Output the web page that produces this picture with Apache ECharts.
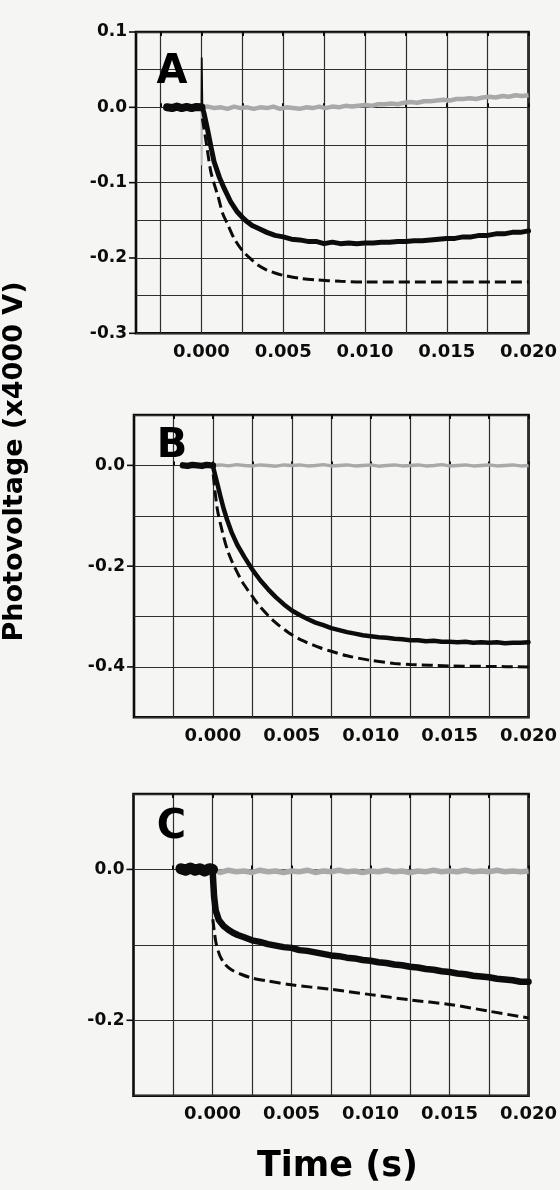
<!DOCTYPE html>
<html><head><meta charset="utf-8">
<script src="https://cdn.jsdelivr.net/npm/echarts@6/dist/echarts.min.js"></script>
<style>html,body{margin:0;padding:0;background:#f5f5f3}#c{width:560px;height:1190px}</style>
</head><body><div id="c"></div>
<script>
// ---------- data (time in s, photovoltage in x4000 V) ----------
const panelLetters = ['A', 'B', 'C'];
const xTickValues = [-0.0025, 0, 0.0025, 0.005, 0.0075, 0.01, 0.0125, 0.015, 0.0175, 0.02];
const xLabelValues = [0, 0.005, 0.01, 0.015, 0.02];
const xMins = [-0.004, -0.005, -0.005];
const xMax = 0.02;
const yMins = [-0.3, -0.5, -0.3];
const yMaxs = [0.1, 0.1, 0.1];
const yIntervals = [0.05, 0.1, 0.1];
const yLabelStep = [0.1, 0.2, 0.2];
const xTitle = 'Time (s)';
const yTitle = 'Photovoltage (x4000 V)';

// measured trace before the flash (t < 0)
const A_darkPre = [[-0.0021,0.0],[-0.0018,-0.001],[-0.0015,0.001],[-0.0012,-0.001],[-0.0009,0.0005],[-0.0006,-0.001],[-0.0003,0.0005],[0,0.0]];
const B_darkPre = [[-0.0019,0.0],[-0.0016,-0.001],[-0.0013,0.001],[-0.001,0.0],[-0.0007,-0.001],[-0.0004,0.001],[-0.0001,0.0],[0,0.0]];
const C_darkPre = [[-0.002,0.001],[-0.0017,-0.001],[-0.0014,0.002],[-0.0011,-0.001],[-0.0008,0.001],[-0.0005,-0.002],[-0.0002,0.001],[0,0.0]];
// flash artefacts at t = 0
const A_darkSpike = [[0,0.0],[0.00002,0.066],[0.00006,0.0]];
const A_lightSpike = [[0,0.0],[0.00002,-0.077],[0.00005,0.0]];
// measured traces after the flash
const A_dark = [[0.00006,0.0],[0.00015,-0.007],[0.00037,-0.029],[0.00057,-0.051],[0.00077,-0.072],[0.0011,-0.093],[0.0014,-0.108],[0.0018,-0.126],[0.0022,-0.139],[0.0025,-0.146],[0.0028,-0.152],[0.0031,-0.157],[0.0035,-0.161],[0.004,-0.166],[0.0045,-0.170],[0.005,-0.172],[0.0055,-0.175],[0.006,-0.176],[0.0065,-0.178],[0.007,-0.178],[0.0075,-0.181],[0.008,-0.179],[0.0085,-0.181],[0.009,-0.180],[0.0095,-0.181],[0.01,-0.180],[0.0105,-0.180],[0.011,-0.179],[0.0115,-0.179],[0.012,-0.178],[0.0125,-0.178],[0.013,-0.177],[0.0135,-0.177],[0.014,-0.176],[0.0145,-0.175],[0.015,-0.174],[0.0155,-0.174],[0.016,-0.172],[0.0165,-0.172],[0.017,-0.170],[0.0175,-0.170],[0.018,-0.168],[0.0185,-0.168],[0.019,-0.166],[0.0195,-0.166],[0.02,-0.164]];
const A_light = [[0,0.0],[0.0004,0.001],[0.0008,-0.001],[0.0012,0.0],[0.0016,-0.002],[0.002,0.001],[0.0024,-0.001],[0.0028,0.0],[0.0032,-0.002],[0.0036,0.0],[0.004,-0.001],[0.0044,0.001],[0.0048,-0.002],[0.0052,0.0],[0.0056,-0.001],[0.006,-0.002],[0.0064,0.0],[0.0068,-0.001],[0.0072,0.001],[0.0076,-0.001],[0.008,0.001],[0.0084,0.0],[0.0088,0.002],[0.0092,0.001],[0.0096,0.002],[0.01,0.003],[0.0104,0.002],[0.0108,0.004],[0.0112,0.004],[0.0116,0.005],[0.012,0.004],[0.0124,0.006],[0.0128,0.007],[0.0132,0.006],[0.0136,0.008],[0.014,0.008],[0.0144,0.009],[0.0148,0.010],[0.0152,0.009],[0.0156,0.011],[0.016,0.011],[0.0164,0.012],[0.0168,0.011],[0.0172,0.013],[0.0176,0.014],[0.018,0.013],[0.0184,0.015],[0.0188,0.014],[0.0192,0.016],[0.0196,0.015],[0.02,0.016]];
const A_fit = [[0.00006,-0.015],[0.00026,-0.042],[0.00057,-0.085],[0.00077,-0.101],[0.00104,-0.12],[0.0013,-0.141],[0.0016,-0.155],[0.002,-0.174],[0.0025,-0.19],[0.003,-0.201],[0.0035,-0.21],[0.004,-0.216],[0.0045,-0.22],[0.005,-0.223],[0.006,-0.227],[0.007,-0.229],[0.0085,-0.231],[0.01,-0.232],[0.015,-0.232],[0.02,-0.232]];

const B_dark = [[0,0.0],[0.00006,-0.009],[0.00027,-0.035],[0.00048,-0.062],[0.00069,-0.087],[0.0009,-0.108],[0.0012,-0.134],[0.00155,-0.158],[0.002,-0.182],[0.0025,-0.207],[0.003,-0.228],[0.0035,-0.246],[0.004,-0.262],[0.0045,-0.276],[0.005,-0.288],[0.0055,-0.297],[0.006,-0.305],[0.0065,-0.312],[0.007,-0.317],[0.0075,-0.323],[0.008,-0.327],[0.0085,-0.331],[0.009,-0.334],[0.0095,-0.337],[0.01,-0.339],[0.0105,-0.341],[0.011,-0.342],[0.0115,-0.344],[0.012,-0.345],[0.0125,-0.347],[0.013,-0.347],[0.0135,-0.349],[0.014,-0.348],[0.0145,-0.350],[0.015,-0.350],[0.0155,-0.351],[0.016,-0.350],[0.0165,-0.352],[0.017,-0.351],[0.0175,-0.352],[0.018,-0.351],[0.0185,-0.353],[0.019,-0.352],[0.0195,-0.352],[0.02,-0.351]];
const B_light = [[0,0.0],[0.0005,0.001],[0.001,-0.001],[0.0015,0.0015],[0.002,0.0],[0.0025,-0.001],[0.003,0.001],[0.0035,0.0],[0.004,-0.0015],[0.0045,0.001],[0.005,0.0],[0.0055,0.001],[0.006,-0.001],[0.0065,0.0],[0.007,0.0015],[0.0075,-0.001],[0.008,0.0],[0.0085,0.001],[0.009,-0.001],[0.0095,0.0],[0.01,0.001],[0.0105,-0.0015],[0.011,0.0],[0.0115,0.001],[0.012,-0.001],[0.0125,0.0],[0.013,0.001],[0.0135,-0.001],[0.014,0.0],[0.0145,0.0015],[0.015,-0.001],[0.0155,0.0],[0.016,0.001],[0.0165,-0.001],[0.017,0.0],[0.0175,0.001],[0.018,-0.001],[0.0185,0.0],[0.019,0.001],[0.0195,-0.001],[0.02,0.0]];
const B_fit = [[0.00002,-0.018],[0.00027,-0.085],[0.0006,-0.132],[0.0009,-0.166],[0.0012,-0.19],[0.0017,-0.222],[0.002,-0.238],[0.0025,-0.26],[0.003,-0.281],[0.0039,-0.31],[0.0048,-0.332],[0.0057,-0.348],[0.0068,-0.362],[0.0075,-0.369],[0.0085,-0.378],[0.01,-0.387],[0.0115,-0.393],[0.0125,-0.395],[0.015,-0.398],[0.0175,-0.399],[0.02,-0.4]];

const C_dark = [[0,0.0],[0.00004,-0.014],[0.0001,-0.036],[0.0002,-0.054],[0.0004,-0.067],[0.0007,-0.075],[0.001,-0.080],[0.0013,-0.084],[0.0016,-0.087],[0.002,-0.090],[0.0025,-0.094],[0.003,-0.096],[0.0035,-0.099],[0.004,-0.101],[0.0045,-0.103],[0.005,-0.104],[0.0055,-0.107],[0.006,-0.108],[0.0065,-0.110],[0.007,-0.112],[0.0075,-0.114],[0.008,-0.115],[0.0085,-0.117],[0.009,-0.118],[0.0095,-0.120],[0.01,-0.121],[0.0105,-0.123],[0.011,-0.124],[0.0115,-0.126],[0.012,-0.127],[0.0125,-0.129],[0.013,-0.130],[0.0135,-0.132],[0.014,-0.133],[0.0145,-0.135],[0.015,-0.136],[0.0155,-0.138],[0.016,-0.139],[0.0165,-0.141],[0.017,-0.142],[0.0175,-0.143],[0.018,-0.145],[0.0185,-0.146],[0.019,-0.147],[0.0195,-0.149],[0.02,-0.149]];
const C_light = [[0,-0.001],[0.0005,-0.004],[0.001,-0.001],[0.0015,-0.003],[0.002,-0.002],[0.0025,-0.004],[0.003,-0.001],[0.0035,-0.003],[0.004,-0.002],[0.0045,-0.004],[0.005,-0.002],[0.0055,-0.003],[0.006,-0.001],[0.0065,-0.004],[0.007,-0.002],[0.0075,-0.003],[0.008,-0.001],[0.0085,-0.003],[0.009,-0.002],[0.0095,-0.004],[0.01,-0.002],[0.0105,-0.003],[0.011,-0.001],[0.0115,-0.003],[0.012,-0.002],[0.0125,-0.004],[0.013,-0.002],[0.0135,-0.003],[0.014,-0.001],[0.0145,-0.003],[0.015,-0.002],[0.0155,-0.003],[0.016,-0.001],[0.0165,-0.003],[0.017,-0.002],[0.0175,-0.003],[0.018,-0.001],[0.0185,-0.003],[0.019,-0.002],[0.0195,-0.003],[0.02,-0.002]];
const C_fit = [[0.00002,-0.066],[0.0001,-0.08],[0.0002,-0.095],[0.0003,-0.104],[0.0005,-0.116],[0.0008,-0.126],[0.0012,-0.133],[0.0018,-0.139],[0.0025,-0.144],[0.0035,-0.148],[0.005,-0.153],[0.0075,-0.159],[0.01,-0.166],[0.0125,-0.173],[0.015,-0.179],[0.0175,-0.188],[0.02,-0.197]];

const darkPre = [A_darkPre, B_darkPre, C_darkPre];
const darkTraces = [A_dark, B_dark, C_dark];
const lightTraces = [A_light, B_light, C_light];
const fitTraces = [A_fit, B_fit, C_fit];

// ---------- layout / style ----------
const grids = [
  {left: 136, top: 32, width: 395.5, height: 301.3},
  {left: 134, top: 415, width: 397.5, height: 302.3},
  {left: 133.5, top: 794, width: 397, height: 301.7}
];
const letterPos = [[172, 72.5], [172, 446.5], [171.5, 827.5]];
const preWidth = [8, 6.5, 11];
const darkWidth = [5, 4.5, 6.5];
const lightWidth = [4.5, 3.5, 5.5];
const NUM_FONT = '"DejaVu Sans", "Liberation Sans", Arial, sans-serif';
const INK = '#0c0c0c';
const LIGHT = '#a9a9a9';

const chart = echarts.init(document.getElementById('c'), null, {renderer: 'canvas'});

const option = {
  backgroundColor: '#f5f5f3',
  animation: false,
  grid: grids.map(g => Object.assign({show: true, borderColor: INK, borderWidth: 2.6, backgroundColor: 'transparent', containLabel: false}, g)),
  xAxis: [],
  yAxis: [],
  series: [],
  graphic: []
};

for (let i = 0; i < 3; i++) {
  option.xAxis.push({
    type: 'value', gridIndex: i, position: 'bottom', min: xMins[i], max: xMax,
    axisLine: {show: false},
    axisTick: {show: true, inside: true, length: 4, customValues: xTickValues, lineStyle: {color: INK, width: 2}},
    axisLabel: {show: true, customValues: xLabelValues, formatter: v => v.toFixed(3), margin: 10,
      fontFamily: NUM_FONT, fontWeight: 'bold', fontSize: 18, color: INK},
    splitLine: {show: true, lineStyle: {color: '#2e2e2e', width: 1.2}}
  });
  option.xAxis.push({
    type: 'value', gridIndex: i, position: 'top', min: xMins[i], max: xMax,
    axisLine: {show: false},
    axisTick: {show: true, inside: true, length: 4, customValues: xTickValues, lineStyle: {color: INK, width: 2}},
    axisLabel: {show: false},
    splitLine: {show: false}
  });
  const step = yLabelStep[i];
  option.yAxis.push({
    type: 'value', gridIndex: i, position: 'left', min: yMins[i], max: yMaxs[i], interval: yIntervals[i],
    axisLine: {show: false},
    axisTick: {show: false},
    axisLabel: {
      show: true, margin: 0,
      formatter: v => {
        const k = Math.round(v / step * 1000) / 1000;
        if (Math.abs(k - Math.round(k)) > 1e-6) return '';
        return '{v|' + (Math.abs(v) < 1e-9 ? 0 : v).toFixed(1) + '}{g|}{t|}';
      },
      rich: {
        v: {fontFamily: NUM_FONT, fontWeight: 'bold', fontSize: 17, color: INK},
        g: {width: 2},
        t: {width: 7, height: 1.6, backgroundColor: INK}
      }
    },
    splitLine: {show: true, lineStyle: {color: '#2e2e2e', width: 1.2}}
  });

  const base = {type: 'line', xAxisIndex: 2 * i, yAxisIndex: i, showSymbol: false, silent: true};
  option.series.push(Object.assign({}, base, {data: lightTraces[i], lineStyle: {color: LIGHT, width: lightWidth[i], join: 'round'}, z: 3}));
  option.series.push(Object.assign({}, base, {data: fitTraces[i], smooth: 0.3, lineStyle: {color: INK, width: 3, type: [11, 5]}, z: 4}));
  option.series.push(Object.assign({}, base, {data: darkTraces[i], lineStyle: {color: INK, width: darkWidth[i], join: 'round', cap: 'round'}, z: 5}));
  option.series.push(Object.assign({}, base, {data: darkPre[i], lineStyle: {color: INK, width: preWidth[i], join: 'round', cap: 'round'}, z: 5}));

  option.graphic.push({
    type: 'text', x: letterPos[i][0], y: letterPos[i][1], z: 10,
    style: {text: panelLetters[i], font: 'bold 40px ' + NUM_FONT, fill: '#000', align: 'center', verticalAlign: 'middle'}
  });
}
// flash artefacts of panel A
option.series.push({type: 'line', xAxisIndex: 0, yAxisIndex: 0, showSymbol: false, silent: true, data: A_lightSpike, lineStyle: {color: '#bdbdbd', width: 1.5}, z: 2});
option.series.push({type: 'line', xAxisIndex: 0, yAxisIndex: 0, showSymbol: false, silent: true, data: A_darkSpike, lineStyle: {color: INK, width: 1.8}, z: 6});

option.graphic.push({
  type: 'text', x: 337.5, y: 1167, z: 10,
  style: {text: xTitle, font: 'bold 35px ' + NUM_FONT, fill: '#000', align: 'center', verticalAlign: 'middle'}
});
option.graphic.push({
  type: 'text', x: 15, y: 461.5, rotation: Math.PI / 2, z: 10,
  style: {text: yTitle, font: 'bold 27px ' + NUM_FONT, fill: '#000', align: 'center', verticalAlign: 'middle'}
});

chart.setOption(option);
</script>
</body></html>
